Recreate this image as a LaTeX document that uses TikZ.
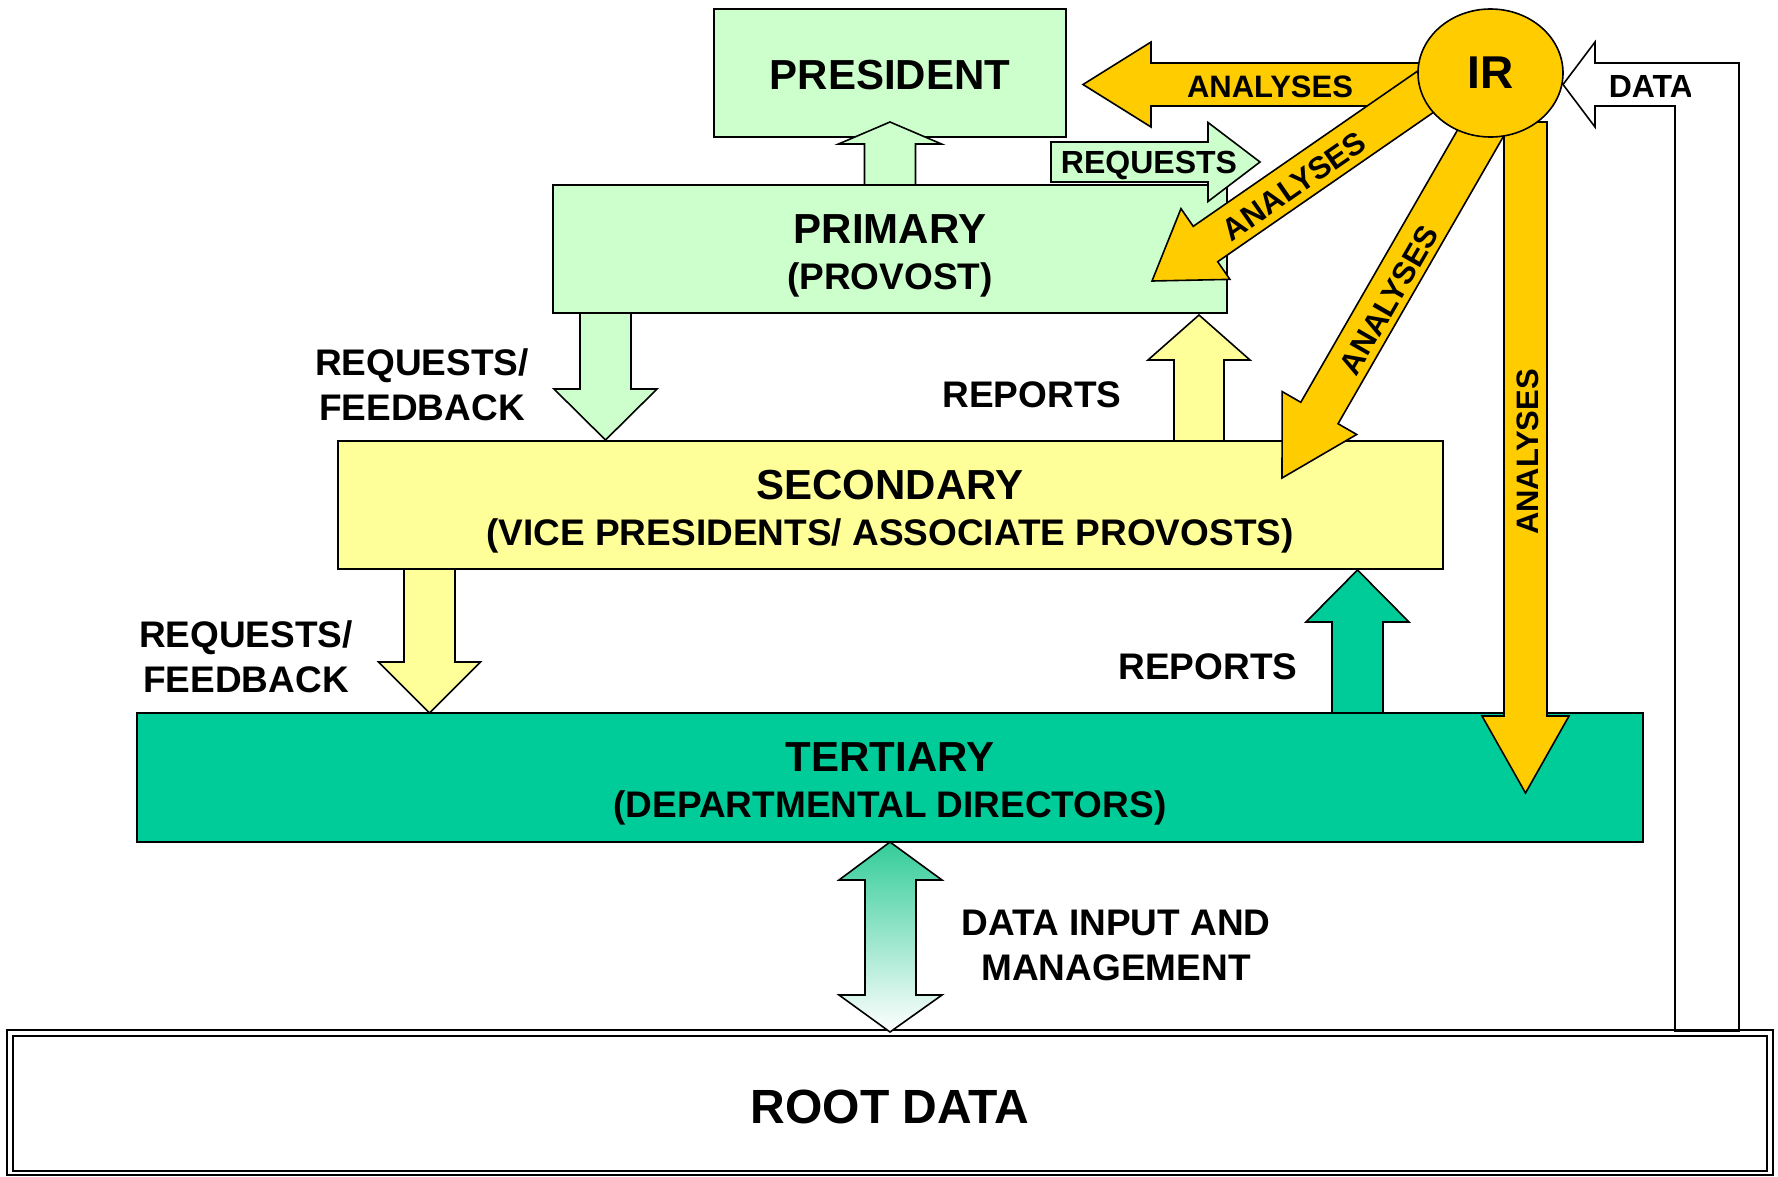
\documentclass[tikz,border=0pt]{standalone}
\usepackage{fontspec}
\setmainfont{Liberation Sans}
\usetikzlibrary{calc,shapes.geometric}
\definecolor{lgreen}{HTML}{CCFFCC}
\definecolor{lyellow}{HTML}{FFFF99}
\definecolor{tealg}{HTML}{00CC99}
\definecolor{goldy}{HTML}{FFCC00}
\definecolor{gradgreen}{HTML}{33CC99}
\newcommand\fsz[1]{\fontsize{#1pt}{#1pt}\selectfont\bfseries}
% style, start, tip, half shaft, half head, head length
\newcommand\blockarr[6]{%
  \coordinate (ba-b) at ($(#3)!#6pt!(#2)$);
  \path[#1] ($(#2)!#4pt!90:(#3)$) -- ($(ba-b)!#4pt!90:(#3)$) -- ($(ba-b)!#5pt!90:(#3)$) -- (#3)
     -- ($(ba-b)!#5pt!-90:(#3)$) -- ($(ba-b)!#4pt!-90:(#3)$) -- ($(#2)!#4pt!-90:(#3)$) -- cycle;
}
\begin{document}
\begin{tikzpicture}[x=1pt,y=-1pt,line width=1.6pt,line join=miter,
  box/.style={draw=black,rectangle,inner sep=0pt,outer sep=0pt},
  lbl/.style={anchor=base,inner sep=0pt},
  garrow/.style={draw=black,fill=goldy},
  rotlbl/.style={anchor=center,inner sep=0pt,font=\fsz{31}}]
\useasboundingbox (0,0) rectangle (1778,1176);

% DATA bent arrow (white)
\coordinate (dtip) at (1563,84.5);
\path[draw=black,fill=white] (dtip) -- (1595,42) -- (1595,63) -- (1739,63) -- (1739,1031)
   -- (1675,1031) -- (1675,106) -- (1595,106) -- (1595,127) -- cycle;
\begin{scope}
  \clip (1597,60) rectangle (1690,104);
  \node[lbl,anchor=base west,font=\fsz{32}] (t-data) at (1608,97) {DATA};
\end{scope}

% ROOT DATA box (double border)
\node[box,line width=2.5pt,minimum width=1766pt,minimum height=145pt] (root) at (890,1102.5) {};
\draw[line width=2.5pt] ($(root.north west)+(6,6)$) rectangle ($(root.south east)+(-6,-4)$);

% level boxes
\node[box,fill=lgreen,minimum width=352pt,minimum height=128pt] (pres) at (890,73) {};
\node[box,fill=lgreen,minimum width=674pt,minimum height=128pt] (prim) at (890,249) {};
\node[box,fill=lyellow,minimum width=1105pt,minimum height=128pt] (sec) at (890.5,505) {};
\node[box,fill=tealg,minimum width=1506pt,minimum height=129pt] (ter) at (890,777.5) {};

% block arrows between levels
\coordinate (a0s) at (890,185);   \coordinate (a0t) at (890,122);
\blockarr{draw=black,fill=lgreen}{a0s}{a0t}{25.5}{51.5}{22}
\coordinate (rqs) at (1051,162);  \coordinate (rqt) at (1260,162);
\blockarr{draw=black,fill=lgreen}{rqs}{rqt}{20}{39.5}{52}
\coordinate (a5s) at (605.5,313); \coordinate (a5t) at (605.5,440);
\blockarr{draw=black,fill=lgreen}{a5s}{a5t}{25.5}{51.5}{51}
\coordinate (a6s) at (1199,441);  \coordinate (a6t) at (1199,315);
\blockarr{draw=black,fill=lyellow}{a6s}{a6t}{25}{51}{45}
\coordinate (a7s) at (429.5,569); \coordinate (a7t) at (429.5,713);
\blockarr{draw=black,fill=lyellow}{a7s}{a7t}{25.5}{51}{51}
\coordinate (a8s) at (1357.5,713); \coordinate (a8t) at (1357.5,570);
\blockarr{draw=black,fill=tealg}{a8s}{a8t}{25.5}{51.5}{52}

% double arrow data input
\coordinate (dtop) at (890,842); \coordinate (dbot) at (890,1032);
\path[draw=black,top color=gradgreen,bottom color=white]
  (dtop) -- (942,880) -- (916,880) -- (916,995) -- (942,995) -- (dbot)
  -- (839,995) -- (865,995) -- (865,880) -- (839,880) -- cycle;

% IR analyses arrows
\coordinate (g1s) at (1460,84.5);   \coordinate (g1t) at (1083,84.5);
\blockarr{garrow}{g1s}{g1t}{21.5}{42.5}{68}
\coordinate (g2s) at (1464.4,64.8); \coordinate (g2t) at (1152,281);
\blockarr{garrow}{g2s}{g2t}{21.5}{43}{65}
\coordinate (g3s) at (1496.6,105.2); \coordinate (g3t) at (1282,478);
\blockarr{garrow}{g3s}{g3t}{21.5}{43}{75}
\coordinate (g4s) at (1525.5,122);  \coordinate (g4t) at (1525.5,793);
\blockarr{garrow}{g4s}{g4t}{21.5}{43.5}{77}

\node[ellipse,draw=black,fill=goldy,inner sep=0pt,minimum width=145pt,minimum height=128pt,font=\fsz{46}] (ir) at (1490.5,73) {IR};

% texts
\node[lbl,font=\fsz{42}] (t-pres) at (890,89.5) {PRESIDENT};
\node[lbl,font=\fsz{42}] (t-prim1) at (890,243) {PRIMARY};
\node[lbl,font=\fsz{37}] (t-prim2) at (890,289) {(PROVOST)};
\node[lbl,font=\fsz{42}] (t-sec1) at (890,499) {SECONDARY};
\node[lbl,font=\fsz{37}] (t-sec2) at (890,545) {(VICE PRESIDENTS/ ASSOCIATE PROVOSTS)};
\node[lbl,font=\fsz{42}] (t-ter1) at (890,771) {TERTIARY};
\node[lbl,font=\fsz{37}] (t-ter2) at (890,817) {(DEPARTMENTAL DIRECTORS)};
\node[lbl,font=\fsz{48}] (t-root) at (890,1123) {ROOT DATA};

\node[lbl,font=\fsz{31}] (t-an1) at (1270,97) {ANALYSES};
\node[lbl,font=\fsz{32}] (t-req) at (1149,173) {REQUESTS};
\node[rotlbl,rotate=34.7] (t-an2) at (1294,186) {ANALYSES};
\node[rotlbl,rotate=60] (t-an3) at (1389,300) {ANALYSES};
\node[rotlbl,rotate=90] (t-an4) at (1528,452) {ANALYSES};

\node[lbl,font=\fsz{37}] (t-rf1a) at (422,375) {REQUESTS/};
\node[lbl,font=\fsz{37}] (t-rf1b) at (422,420) {FEEDBACK};
\node[lbl,font=\fsz{37}] (t-rep1) at (1032,407) {REPORTS};
\node[lbl,font=\fsz{37}] (t-rf2a) at (246,647) {REQUESTS/};
\node[lbl,font=\fsz{37}] (t-rf2b) at (246,692) {FEEDBACK};
\node[lbl,font=\fsz{37}] (t-rep2) at (1208,679) {REPORTS};
\node[lbl,font=\fsz{37}] (t-dim1) at (1116,935) {DATA INPUT AND};
\node[lbl,font=\fsz{37}] (t-dim2) at (1116,980) {MANAGEMENT};
\end{tikzpicture}
\end{document}
